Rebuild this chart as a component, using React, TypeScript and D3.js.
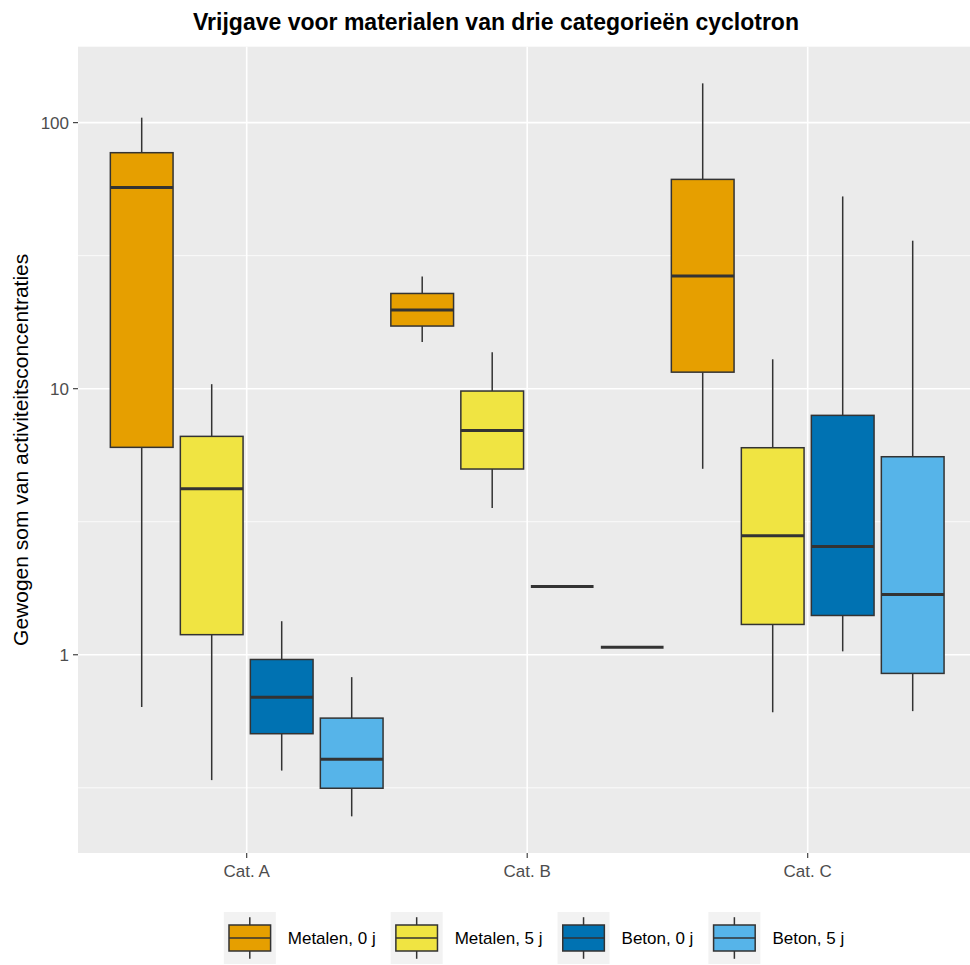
import React from 'react';
import * as d3 from 'd3';

// boxplot stats per category: [lower whisker, q1, median, q3, upper whisker]
const categories = ['Cat. A', 'Cat. B', 'Cat. C'];
const seriesNames = ['Metalen, 0 j', 'Metalen, 5 j', 'Beton, 0 j', 'Beton, 5 j'];
const seriesColors = ['#E69F00', '#F0E442', '#0072B2', '#56B4E9'];

const metalen0j = [
  [0.637, 6.02, 57.0, 77.1, 104.4],
  [14.97, 17.2, 19.75, 22.8, 26.4],
  [5.0, 11.54, 26.5, 61.2, 140.5],
];
const metalen5j = [
  [0.338, 1.19, 4.21, 6.62, 10.4],
  [3.56, 4.99, 6.97, 9.8, 13.7],
  [0.608, 1.3, 2.8, 6.0, 12.9],
];
const beton0j = [
  [0.367, 0.505, 0.693, 0.96, 1.337],
  [1.806, 1.806, 1.806, 1.806, 1.806],
  [1.03, 1.405, 2.55, 7.94, 52.8],
];
const beton5j = [
  [0.247, 0.315, 0.405, 0.578, 0.824],
  [1.068, 1.068, 1.068, 1.068, 1.068],
  [0.614, 0.851, 1.685, 5.55, 36.0],
];

const yTicks = [1, 10, 100];
const yMinor = [Math.pow(10, -0.5), Math.pow(10, 0.5), Math.pow(10, 1.5)];

const title = 'Vrijgave voor materialen van drie categorieën cyclotron';
const yTitle = 'Gewogen som van activiteitsconcentraties';

const W = 970;
const H = 965;
const panel = { left: 78, right: 970, top: 46.7, bottom: 853 };
const font = '"Liberation Sans", Arial, Helvetica, sans-serif';

function measure(text: string, size: number) {
  const c = document.createElement('canvas').getContext('2d');
  if (!c) return text.length * size * 0.5;
  c.font = `${size}px ${font}`;
  return c.measureText(text).width;
}

export default function App() {
  const allSeries = [metalen0j, metalen5j, beton0j, beton5j];
  const all = allSeries.flat(2);
  const lo = Math.log10(d3.min(all) as number);
  const hi = Math.log10(d3.max(all) as number);
  const pad = (hi - lo) * 0.05;

  const y = d3
    .scaleLog()
    .domain([Math.pow(10, lo - pad), Math.pow(10, hi + pad)])
    .range([panel.bottom, panel.top]);

  const x = d3.scaleBand().domain(categories).range([106.45, 947.95]);
  const inner = d3
    .scaleBand()
    .domain(seriesNames)
    .range([-140, 140])
    .paddingInner(0.104)
    .paddingOuter(0.052);

  const center = (c: string) => (x(c) as number) + x.bandwidth() / 2;

  // legend layout
  const key = 52;
  const legendItems = seriesNames.map((s) => ({ s, w: key + 12 + measure(s, 17) }));
  const legendW = d3.sum(legendItems, (d) => d.w) + 15 * (legendItems.length - 1);
  let lx = 534 - legendW / 2;
  const legendPos = legendItems.map((d) => {
    const p = lx;
    lx += d.w + 15;
    return p;
  });
  const ky = 912;

  return (
    <div style={{ position: 'absolute', left: 0, top: 0 }}>
      <svg width={W} height={H} style={{ display: 'block', fontFamily: font }}>
        <rect width={W} height={H} fill="#fff" />
        <text x={496} y={29.5} textAnchor="middle" fontSize={23} fontWeight="bold" fill="#000">
          {title}
        </text>

        <rect
          x={panel.left}
          y={panel.top}
          width={panel.right - panel.left}
          height={panel.bottom - panel.top}
          fill="#EBEBEB"
        />
        {yMinor.map((t) => (
          <line key={'mn' + t} x1={panel.left} x2={panel.right} y1={y(t)} y2={y(t)} stroke="#fff" strokeWidth={0.8} />
        ))}
        {yTicks.map((t) => (
          <line key={'mj' + t} x1={panel.left} x2={panel.right} y1={y(t)} y2={y(t)} stroke="#fff" strokeWidth={1.6} />
        ))}
        {categories.map((c) => (
          <line key={'vx' + c} x1={center(c)} x2={center(c)} y1={panel.top} y2={panel.bottom} stroke="#fff" strokeWidth={1.6} />
        ))}

        {allSeries.map((ser, si) =>
          ser.map((st, ci) => {
            const cx = center(categories[ci]) + (inner(seriesNames[si]) as number) + inner.bandwidth() / 2;
            const bw = inner.bandwidth();
            const [wl, q1, med, q3, wh] = st;
            return (
              <g key={si + '-' + ci}>
                <line x1={cx} x2={cx} y1={y(wh)} y2={y(q3)} stroke="#333" strokeWidth={1.5} />
                <line x1={cx} x2={cx} y1={y(q1)} y2={y(wl)} stroke="#333" strokeWidth={1.5} />
                <rect
                  x={cx - bw / 2}
                  y={y(q3)}
                  width={bw}
                  height={Math.max(0, y(q1) - y(q3))}
                  fill={seriesColors[si]}
                  stroke="#333"
                  strokeWidth={1.5}
                />
                <line x1={cx - bw / 2} x2={cx + bw / 2} y1={y(med)} y2={y(med)} stroke="#333" strokeWidth={3} />
              </g>
            );
          })
        )}

        {/* y axis */}
        {yTicks.map((t) => (
          <g key={'yt' + t}>
            <line x1={panel.left - 5} x2={panel.left} y1={y(t)} y2={y(t)} stroke="#333" strokeWidth={1.1} />
            <text x={panel.left - 9} y={y(t)} dy="0.35em" textAnchor="end" fontSize={17} fill="#4D4D4D">
              {d3.format('d')(t)}
            </text>
          </g>
        ))}
        {/* x axis */}
        {categories.map((c) => (
          <g key={'xt' + c}>
            <line x1={center(c)} x2={center(c)} y1={panel.bottom} y2={panel.bottom + 5} stroke="#333" strokeWidth={1.1} />
            <text x={center(c)} y={panel.bottom + 24} textAnchor="middle" fontSize={17} fill="#4D4D4D">
              {c}
            </text>
          </g>
        ))}
        <text
          transform={`translate(28,${(panel.top + panel.bottom) / 2}) rotate(-90)`}
          textAnchor="middle"
          fontSize={21}
          fill="#000"
        >
          {yTitle}
        </text>

        {/* legend */}
        {legendItems.map((d, i) => {
          const x0 = legendPos[i];
          const mx = x0 + key / 2;
          return (
            <g key={'lg' + i}>
              <rect x={x0} y={ky} width={key} height={key} fill="#F2F2F2" />
              <line x1={mx} x2={mx} y1={ky + key * 0.1} y2={ky + key * 0.9} stroke="#333" strokeWidth={1.5} />
              <rect
                x={x0 + key * 0.1}
                y={ky + key * 0.25}
                width={key * 0.8}
                height={key * 0.5}
                fill={seriesColors[i]}
                stroke="#333"
                strokeWidth={1.5}
              />
              <line x1={x0 + key * 0.1} x2={x0 + key * 0.9} y1={ky + key / 2} y2={ky + key / 2} stroke="#333" strokeWidth={1.5} />
              <text x={x0 + key + 12} y={ky + key / 2} dy="0.35em" fontSize={17} fill="#000">
                {d.s}
              </text>
            </g>
          );
        })}
      </svg>
    </div>
  );
}
